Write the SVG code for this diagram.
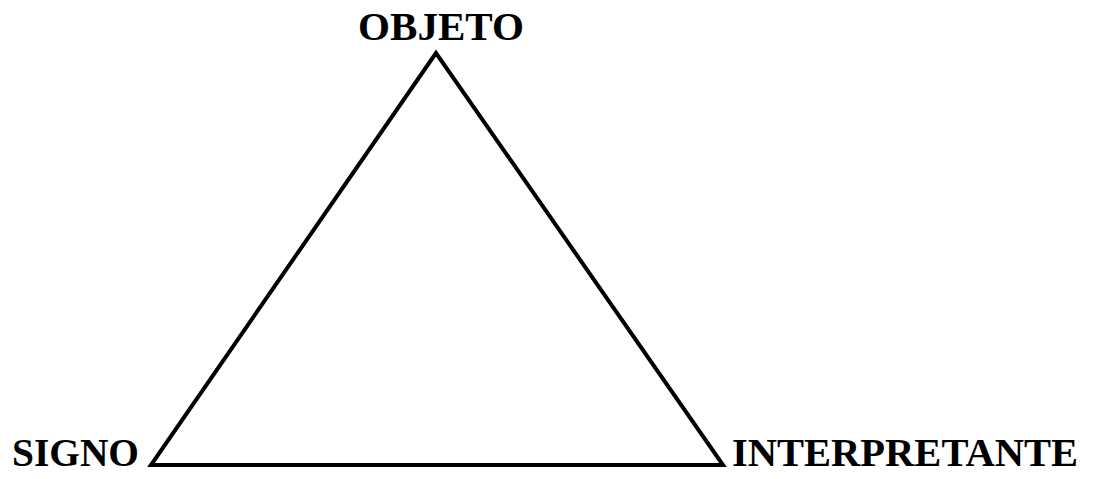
<svg xmlns="http://www.w3.org/2000/svg" width="1093" height="479" viewBox="0 0 1093 479">
<style>
.lbl{font-family:"Liberation Serif","Times New Roman",serif;font-weight:bold;font-size:40px;fill:#000}
.edge{fill:none;stroke:#000;stroke-width:4;stroke-linejoin:miter;stroke-miterlimit:10}
</style>
<rect width="1093" height="479" fill="#fff"/>
<g id="connectors">
<polygon class="edge" points="436,53 151,465 723,465"/>
</g>
<g id="objeto"><text class="lbl" x="358" y="40" textLength="166" lengthAdjust="spacingAndGlyphs">OBJETO</text></g>
<g id="signo"><text class="lbl" x="12" y="466" textLength="127" lengthAdjust="spacingAndGlyphs">SIGNO</text></g>
<g id="interpretante"><text class="lbl" x="732" y="466" textLength="346" lengthAdjust="spacingAndGlyphs">INTERPRETANTE</text></g>
</svg>
